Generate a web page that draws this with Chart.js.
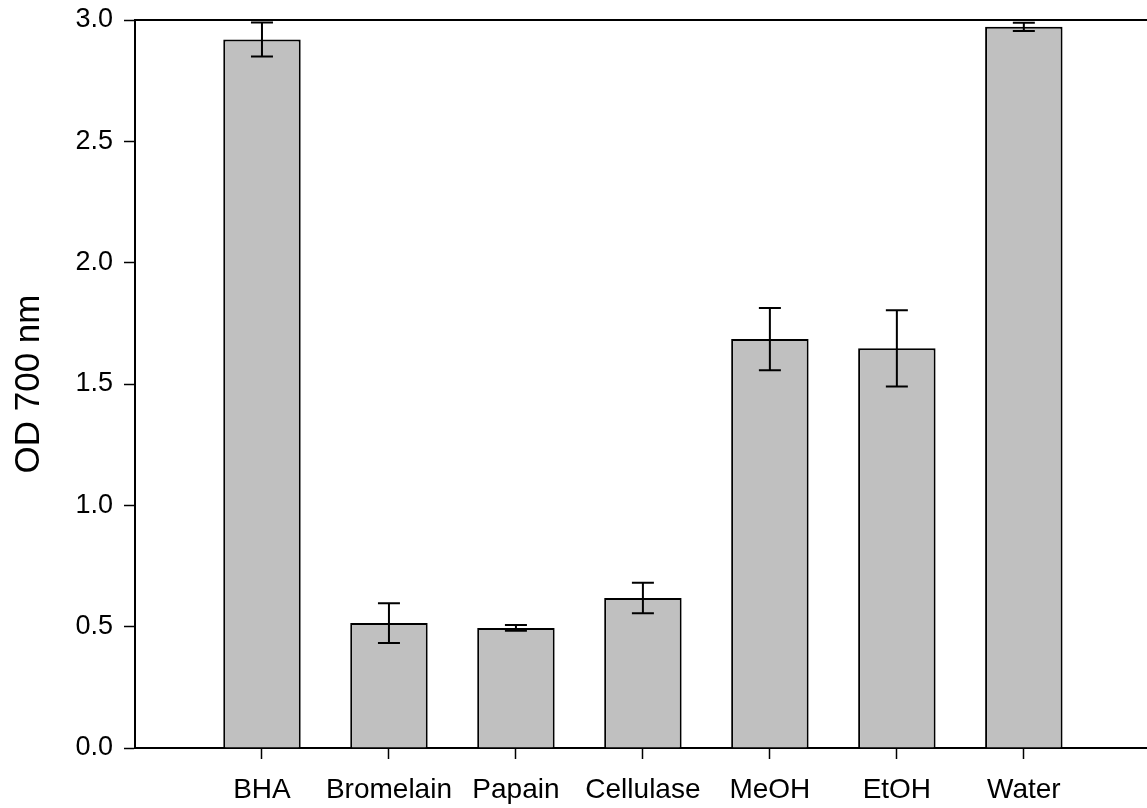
<!DOCTYPE html>
<html>
<head>
<meta charset="utf-8">
<script src="https://cdn.jsdelivr.net/npm/chart.js@4.4.0/dist/chart.umd.min.js"></script>
<style>
  html, body { margin: 0; padding: 0; background: #ffffff; }
  #wrap { width: 1147px; height: 808px; position: relative; }
</style>
</head>
<body>
<div id="wrap"><canvas id="odChart"></canvas></div>
<script>
// Reducing power data
const categories = ['BHA', 'Bromelain', 'Papain', 'Cellulase', 'MeOH', 'EtOH', 'Water'];
const odValues = [2.92, 0.515, 0.495, 0.618, 1.685, 1.647, 2.972];
const odErrors = [0.07, 0.082, 0.012, 0.063, 0.128, 0.157, 0.017];
const yTicks = [0, 0.5, 1.0, 1.5, 2.0, 2.5, 3.0];

const FONT = 'Liberation Sans, Arial, sans-serif';

// error bars drawn with the chart's own scales
const errorBars = {
    id: 'errorBars',
    afterDatasetsDraw(chart) {
        const x = chart.scales.x;
        const y = chart.scales.y;
        const c = chart.ctx;
        c.save();
        c.strokeStyle = '#000000';
        c.lineWidth = 2;
        odValues.forEach(function(v, i) {
            const px = x.getPixelForValue(i + 1);
            const top = y.getPixelForValue(v + odErrors[i]);
            const bot = y.getPixelForValue(v - odErrors[i]);
            c.beginPath();
            c.moveTo(px, top); c.lineTo(px, bot);
            c.moveTo(px - 11, top); c.lineTo(px + 11, top);
            c.moveTo(px - 11, bot); c.lineTo(px + 11, bot);
            c.stroke();
        });
        c.restore();
    }
};

// top frame line
const topLine = {
    id: 'topLine',
    afterDraw(chart) {
        const a = chart.chartArea;
        const c = chart.ctx;
        c.save();
        c.strokeStyle = '#000000';
        c.lineWidth = 2;
        c.beginPath();
        c.moveTo(a.left, a.top);
        c.lineTo(a.right, a.top);
        c.stroke();
        c.restore();
    }
};

document.addEventListener('DOMContentLoaded', function() {
    const ctx = document.getElementById('odChart').getContext('2d');

    new Chart(ctx, {
        type: 'bar',
        data: {
            datasets: [{
                data: odValues.map((v, i) => ({ x: i + 1, y: v })),
                backgroundColor: '#c0c0c0',
                borderColor: '#000000',
                borderWidth: 2,
                barPercentage: 0.61,
                categoryPercentage: 1.0
            }]
        },
        options: {
            responsive: true,
            maintainAspectRatio: false,
            animation: false,
            layout: { padding: { top: 20, right: 0, bottom: 0, left: 0 } },
            plugins: {
                legend: { display: false },
                tooltip: { enabled: false }
            },
            scales: {
                x: {
                    type: 'linear',
                    offset: false,
                    min: 0,
                    max: 7.97,
                    afterBuildTicks: function(axis) {
                        axis.ticks = categories.map((c, i) => ({ value: i + 1 }));
                    },
                    afterFit: function(scale) {
                        scale.height = 60;
                        scale.paddingLeft = 0;
                        scale.paddingRight = 0;
                    },
                    grid: {
                        offset: false,
                        drawOnChartArea: false,
                        tickLength: 11,
                        tickWidth: 1.5,
                        tickColor: '#000000'
                    },
                    border: { color: '#000000', width: 2 },
                    ticks: {
                        color: '#000000',
                        padding: 14,
                        maxRotation: 0,
                        autoSkip: false,
                        font: { family: FONT, size: 28 },
                        callback: function(v) { return categories[v - 1]; }
                    }
                },
                y: {
                    min: 0,
                    max: 3,
                    afterBuildTicks: function(axis) {
                        axis.ticks = yTicks.map(v => ({ value: v }));
                    },
                    afterFit: function(scale) {
                        scale.width = 135;
                        scale.paddingTop = 0;
                        scale.paddingBottom = 0;
                    },
                    title: {
                        display: true,
                        text: 'OD 700 nm',
                        color: '#000000',
                        padding: { top: 8, bottom: 0 },
                        font: { family: FONT, size: 35 }
                    },
                    grid: {
                        drawOnChartArea: false,
                        tickLength: 11,
                        tickWidth: 1.5,
                        tickColor: '#000000'
                    },
                    border: { color: '#000000', width: 2 },
                    ticks: {
                        color: '#000000',
                        padding: 11,
                        font: { family: FONT, size: 27 },
                        callback: function(v) { return v.toFixed(1); }
                    }
                }
            }
        },
        plugins: [errorBars, topLine]
    });
});
</script>
</body>
</html>
